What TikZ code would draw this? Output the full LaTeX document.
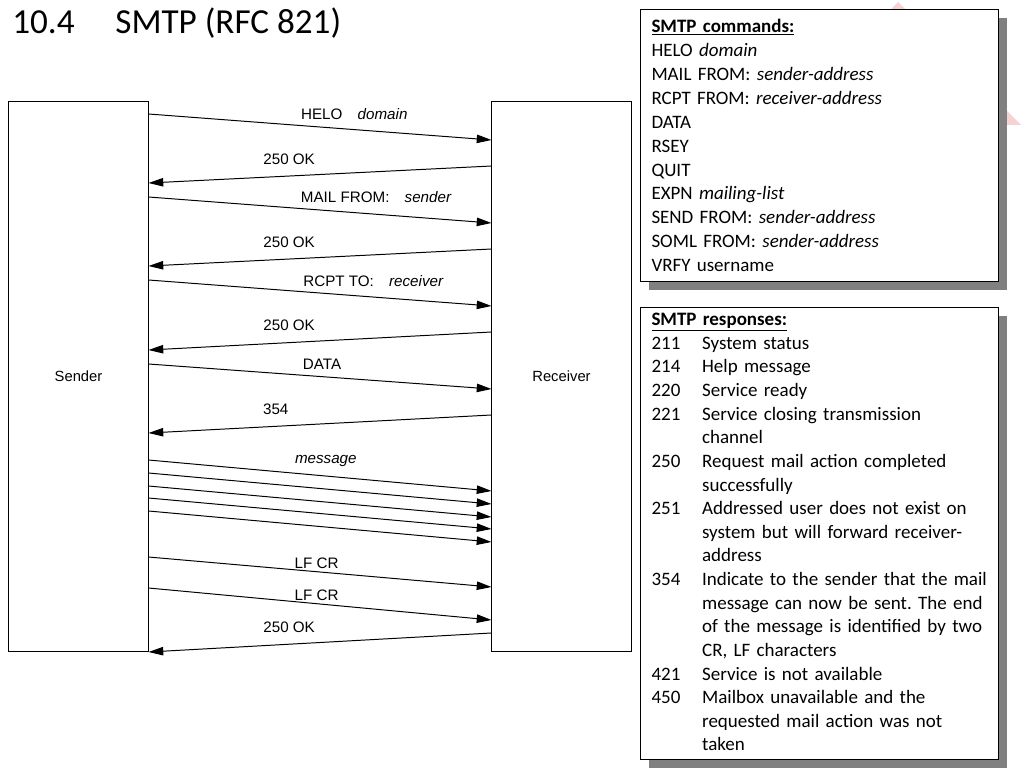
\documentclass[tikz,border=0pt]{standalone}
\usepackage{fontspec}
\setmainfont{Carlito}
\newfontfamily\helv{Liberation Sans}
\usetikzlibrary{positioning, arrows.meta, shadows}
\definecolor{tri}{HTML}{F6D2D2}
\frenchspacing

\tikzset{
  lane/.style={draw, line width=0.7pt, minimum width=3.475cm, minimum height=13.725cm,
    font=\helv\fontsize{10.5}{12}\selectfont},
  msg/.style={line width=0.7pt, -{Triangle[length=10.5pt,width=6pt]}},
  lbl/.style={font=\helv\fontsize{10.8}{13}\selectfont, inner sep=0pt},
  panel/.style={draw, line width=0.7pt, fill=white, anchor=north west, inner xsep=7pt,
    text width=239pt, minimum width=8.95cm, align=left, font=\fontsize{13.5}{17}\selectfont,
    drop shadow={shadow xshift=5.7pt, shadow yshift=-5.7pt, fill=black!50, opacity=1}},
}

\begin{document}
\begin{tikzpicture}[x=0.025cm, y=-0.025cm]
\useasboundingbox (0,0) rectangle (1024,768);

\node[anchor=west, inner sep=0pt, font=\fontsize{25}{30}\selectfont] (title) at (12,23)
  {10.4\hspace{29pt}SMTP (RFC 821)};

\node[lane] (S) at (78.5,376.5) {Sender};
\node[lane] (R) at (561.5,376.5) {Receiver};

\draw[msg] (S.east |- 0,114) -- node[lbl, pos=0.6, yshift=11.1pt] {HELO\quad\textit{domain}} (R.west |- 0,140);
\draw[msg] (R.west |- 0,166) -- node[lbl, pos=0.59, yshift=12pt] {250 OK} (S.east |- 0,183);
\draw[msg] (S.east |- 0,197) -- node[lbl, pos=0.664, yshift=12.3pt] {MAIL FROM:\quad\textit{sender}} (R.west |- 0,223);
\draw[msg] (R.west |- 0,249) -- node[lbl, pos=0.59, yshift=12pt] {250 OK} (S.east |- 0,266);
\draw[msg] (S.east |- 0,280) -- node[lbl, pos=0.656, yshift=11.3pt] {RCPT TO:\quad\textit{receiver}} (R.west |- 0,306);
\draw[msg] (R.west |- 0,332) -- node[lbl, pos=0.59, yshift=12pt] {250 OK} (S.east |- 0,350);
\draw[msg] (S.east |- 0,364) -- node[lbl, pos=0.506, yshift=8.9pt] {DATA} (R.west |- 0,389);
\draw[msg] (R.west |- 0,415) -- node[lbl, pos=0.629, yshift=12.3pt] {354} (S.east |- 0,433);

% message body
\draw[msg] (S.east |- 0,460) -- node[lbl, pos=0.517, yshift=10.6pt] {\textit{message}} (R.west |- 0,491);
\draw[msg] (S.east |- 0,473) -- (R.west |- 0,504);
\draw[msg] (S.east |- 0,486) -- (R.west |- 0,517);
\draw[msg] (S.east |- 0,498) -- (R.west |- 0,529);
\draw[msg] (S.east |- 0,511) -- (R.west |- 0,542);

\draw[msg] (S.east |- 0,557) -- node[lbl, pos=0.49, yshift=6.2pt] {LF CR} (R.west |- 0,587);
\draw[msg] (S.east |- 0,588) -- node[lbl, pos=0.49, yshift=6.2pt] {LF CR} (R.west |- 0,620);
\draw[msg] (R.west |- 0,633) -- node[lbl, pos=0.59, yshift=12pt] {250 OK} (S.east |- 0,652);

% pink shape behind the panels
\fill[tri] (898,2) -- (1021,125) -- (780,125) -- cycle;

\node[panel, minimum height=6.8cm] (cmds) at (640,9) {%
\underline{\textbf{SMTP commands:}}\\
HELO \textit{domain}\\
MAIL FROM: \textit{sender-address}\\
RCPT FROM: \textit{receiver-address}\\
DATA\\
RSEY\\
QUIT\\
EXPN \textit{mailing-list}\\
SEND FROM: \textit{sender-address}\\
SOML FROM: \textit{sender-address}\\
VRFY username};

\node[panel, inner ysep=1pt, minimum height=11.3cm, font=\fontsize{13.5}{16.8}\selectfont] (resp) at (640,307) {%
\begin{tabular}{@{}p{36pt}@{}l@{}}
\multicolumn{2}{@{}l@{}}{\underline{\textbf{SMTP responses:}}}\\
211 & System status\\
214 & Help message\\
220 & Service ready\\
221 & Service closing transmission\\
    & channel\\
250 & Request mail action completed\\
    & successfully\\
251 & Addressed user does not exist on\\
    & system but will forward receiver-\\
    & address\\
354 & Indicate to the sender that the mail\\
    & message can now be sent. The end\\
    & of the message is identified by two\\
    & CR, LF characters\\
421 & Service is not available\\
450 & Mailbox unavailable and the\\
    & requested mail action was not\\
    & taken
\end{tabular}};
\end{tikzpicture}
\end{document}
